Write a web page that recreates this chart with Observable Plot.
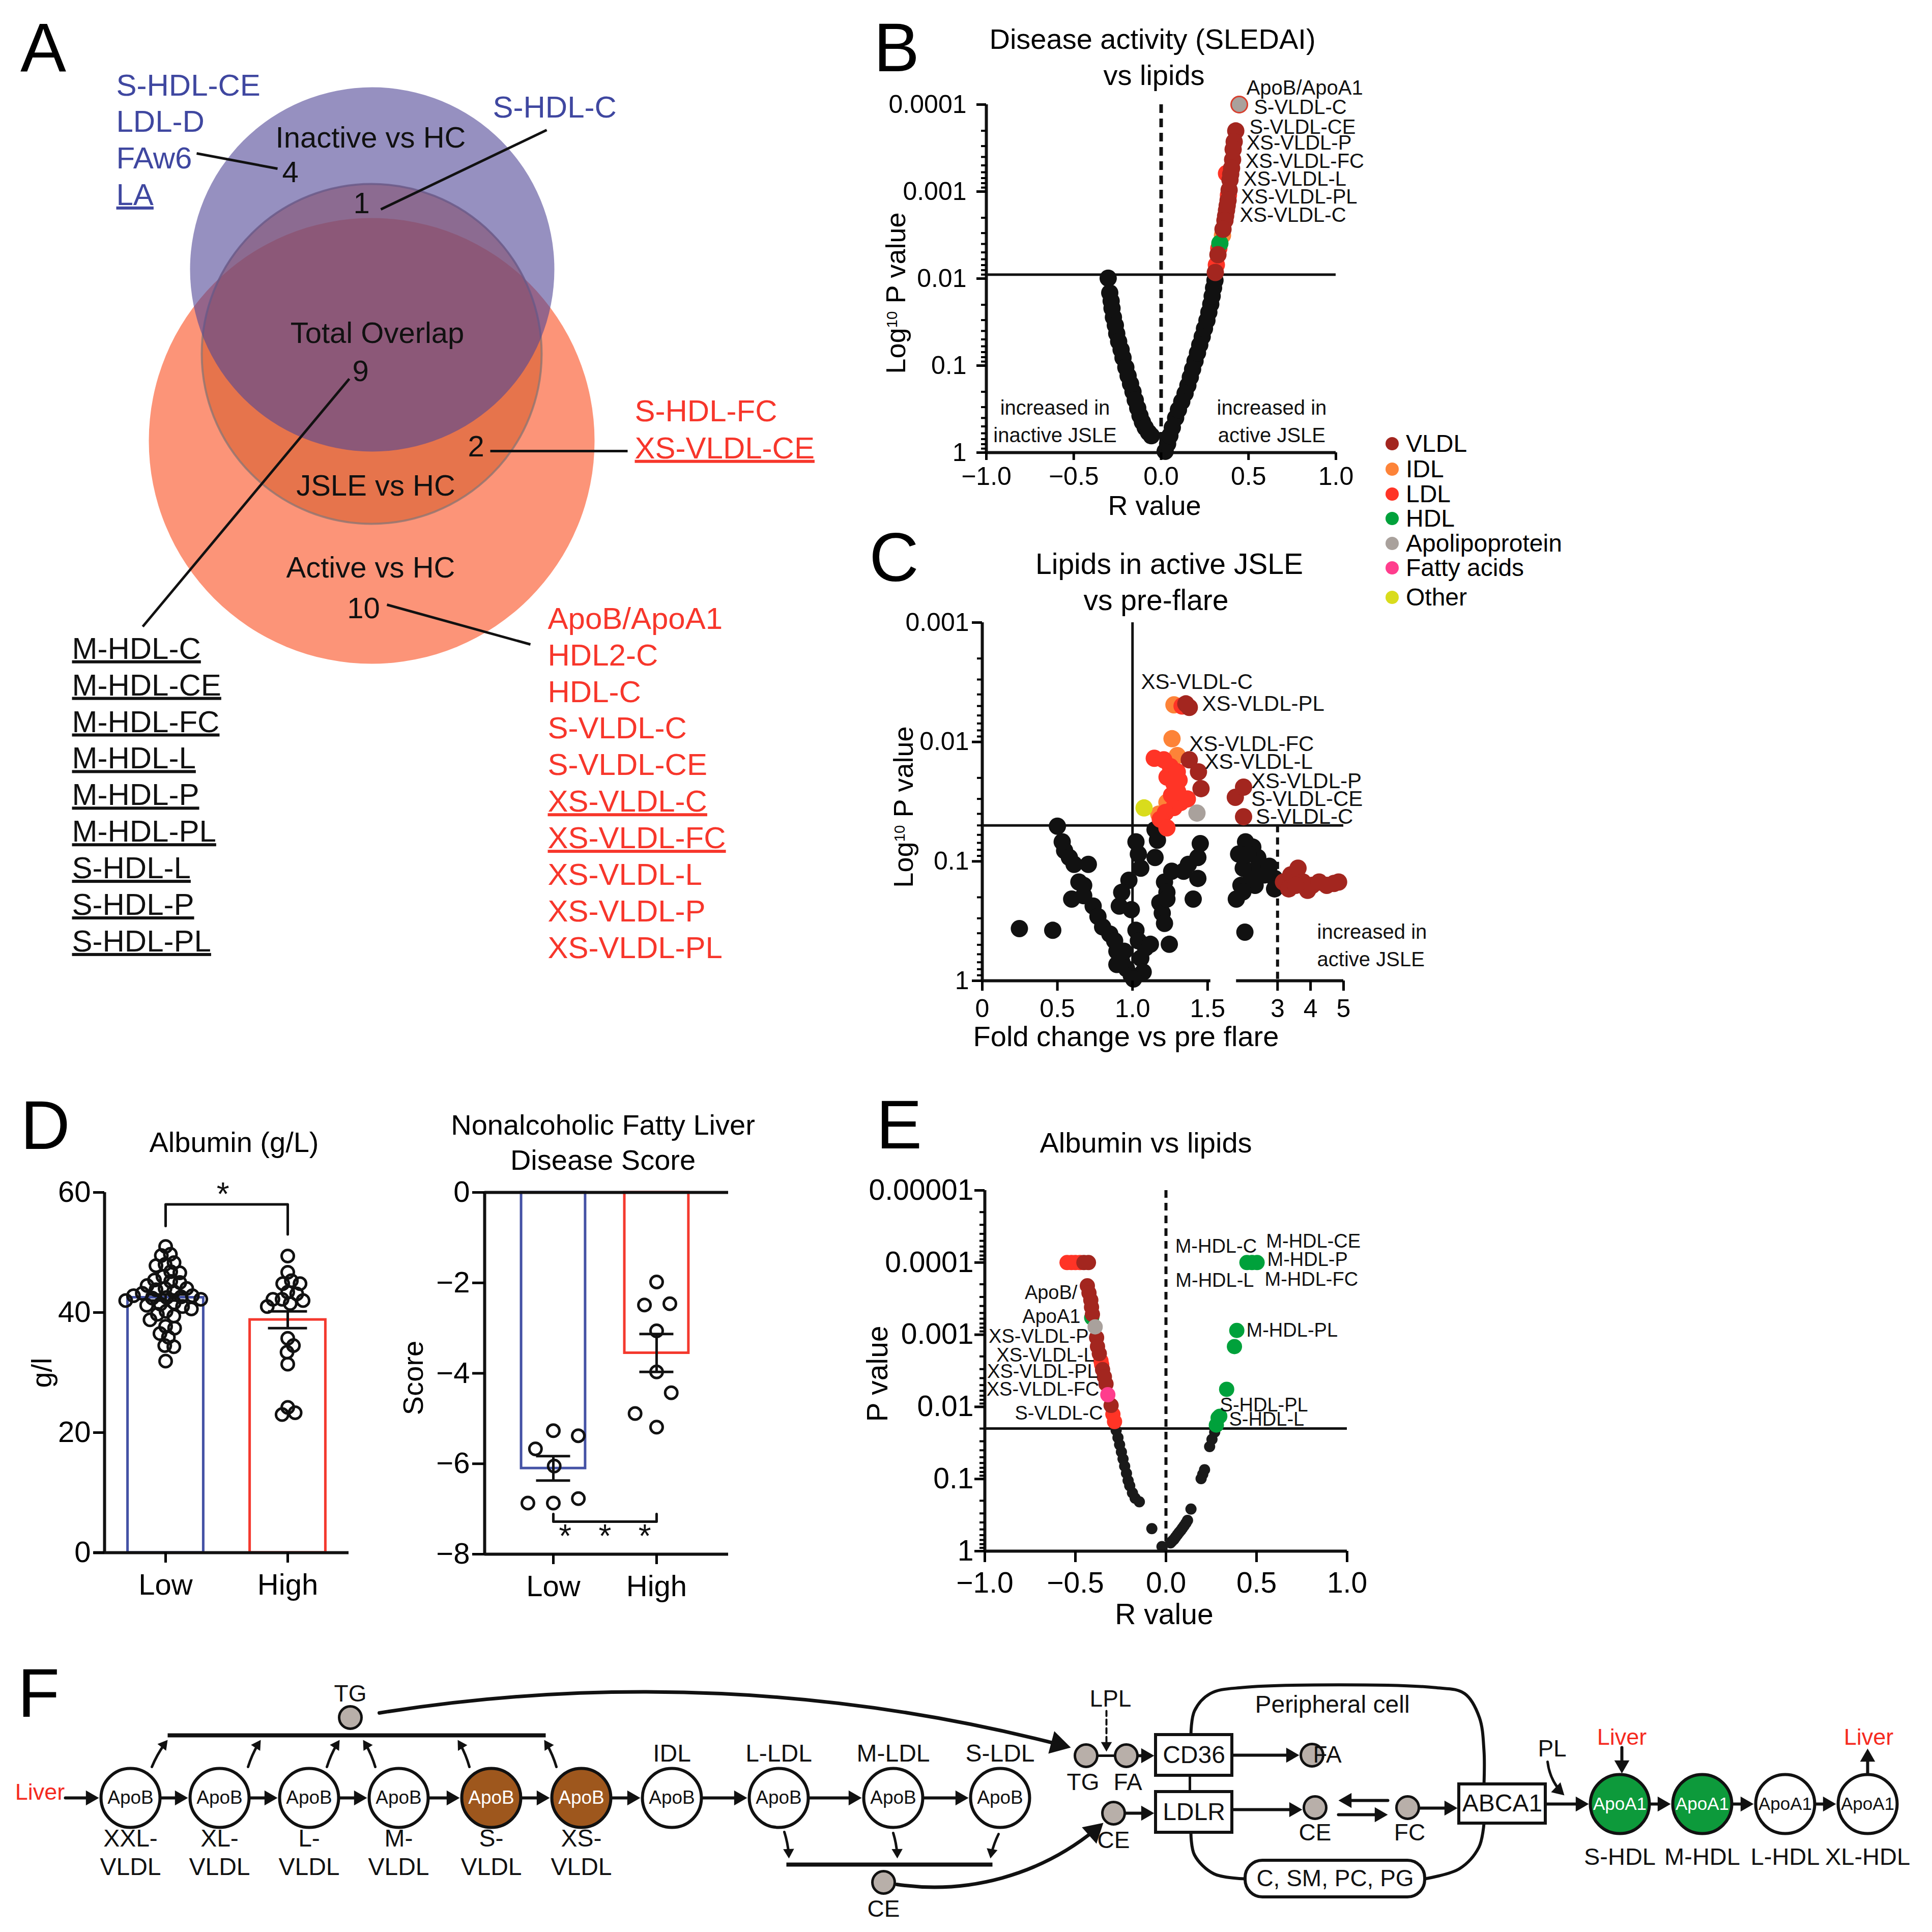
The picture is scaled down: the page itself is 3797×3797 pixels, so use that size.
<!DOCTYPE html>
<html><head><meta charset="utf-8">
<script src="https://cdn.jsdelivr.net/npm/d3@7"></script>
<script src="https://cdn.jsdelivr.net/npm/@observablehq/plot@0.6"></script>
<style>
body{margin:0;background:#fff;}
#fig{position:relative;width:3797px;height:3797px;overflow:hidden;background:#fff;font-family:'Liberation Sans',Arial,Helvetica,sans-serif;color:#000;}
.t{position:absolute;white-space:nowrap;line-height:1;}
.t sup{font-size:0.55em;vertical-align:0.55em;line-height:0;}
</style></head><body><div id="fig"></div>
<script>
const FONT = "'Liberation Sans', Arial, Helvetica, sans-serif";
const fig = document.getElementById("fig");

// ================= DATA =================
// ---- Panel A (Venn) ----
const vennSets = ["Active vs HC", "JSLE vs HC", "Inactive vs HC"];
const vennRegionNames = ["Inactive vs HC", "Total Overlap", "JSLE vs HC", "Active vs HC"];
const vennRegionCounts = [4, 1, 9, 2, 10]; // inactive-only, inactive∩JSLE, total, JSLE∩active, active-only
const inactiveOnlyLipids = ["S-HDL-CE", "LDL-D", "FAw6", "LA"];
const inactiveJsleLipids = ["S-HDL-C"];
const jsleActiveLipids = ["S-HDL-FC", "XS-VLDL-CE"];
const totalOverlapLipids = ["M-HDL-C", "M-HDL-CE", "M-HDL-FC", "M-HDL-L", "M-HDL-P", "M-HDL-PL", "S-HDL-L", "S-HDL-P", "S-HDL-PL"];
const activeOnlyLipids = ["ApoB/ApoA1", "HDL2-C", "HDL-C", "S-VLDL-C", "S-VLDL-CE", "XS-VLDL-C", "XS-VLDL-FC", "XS-VLDL-L", "XS-VLDL-P", "XS-VLDL-PL"];
const underlinedLipids = ["LA", "XS-VLDL-CE", "XS-VLDL-C", "XS-VLDL-FC", ...totalOverlapLipids];

// ---- lipid classes ----
const lipidClasses = ["VLDL", "IDL", "LDL", "HDL", "Apolipoprotein", "Fatty acids", "Other"];
const classKeys = ["VLDL", "IDL", "LDL", "HDL", "Apo", "FA", "Other"];
const classColors = ["#a3261f", "#fd8338", "#ff3426", "#00a13b", "#a9a19c", "#ff3d8d", "#d9dc1c"];

// ---- Panel B: SLEDAI vs lipids (R, P) ----
const bBlack = [[-0.303,0.0099],[-0.294,0.0146],[-0.286,0.0181],[-0.281,0.0220],[-0.273,0.0278],[-0.262,0.0344],[-0.254,0.0428],[-0.243,0.0530],[-0.229,0.0656],[-0.218,0.0813],[-0.202,0.105],[-0.189,0.131],[-0.175,0.162],[-0.161,0.200],[-0.148,0.249],[-0.134,0.308],[-0.121,0.376],[-0.107,0.446],[-0.091,0.516],[-0.072,0.587],[-0.056,0.640],
  [0.023,0.966],[0.037,0.792],[0.050,0.640],[0.064,0.516],[0.083,0.399],[0.099,0.322],[0.118,0.259],[0.137,0.209],[0.153,0.169],[0.167,0.136],[0.180,0.110],[0.194,0.0887],[0.208,0.0715],[0.221,0.0577],[0.235,0.0466],[0.248,0.0376],[0.262,0.0303],[0.273,0.0244],[0.284,0.0197],[0.292,0.0159],[0.300,0.0128],[0.308,0.0105]];
const bLDL = [[0.374,6.2e-4],[0.385,1.1e-3],[0.330,4.5e-3],[0.316,6.95e-3]];
const bIDL = [[0.351,3.18e-3]];
const bHDL = [[0.336,3.94e-3]];
const bVLDL = [[0.447,1.0e-4],[0.427,2.01e-4],[0.418,2.67e-4],[0.412,3.27e-4],[0.409,4.29e-4],[0.403,5.38e-4],[0.398,6.3e-4],[0.394,7.34e-4],[0.389,9.59e-4],[0.383,1.26e-3],[0.378,1.45e-3],[0.374,1.64e-3],[0.369,1.90e-3],[0.365,2.15e-3],[0.354,2.71e-3],[0.325,5.31e-3],[0.310,8.51e-3]];
const bApo = [[0.447,1.0e-4]];
const bThreshold = 0.009;
const bLabelNames = ["ApoB/ApoA1", "S-VLDL-C", "S-VLDL-CE", "XS-VLDL-P", "XS-VLDL-FC", "XS-VLDL-L", "XS-VLDL-PL", "XS-VLDL-C"];
const bLabelR = [0.488, 0.531, 0.505, 0.488, 0.482, 0.471, 0.456, 0.450];
const bLabelP = [6.5e-5, 1.08e-4, 1.83e-4, 2.78e-4, 4.52e-4, 7.24e-4, 1.16e-3, 1.88e-3];

// ---- Panel C: active vs pre-flare (fold change, P) ----
const cBlack = [[0.500,0.0508],[0.532,0.0687],[0.548,0.0813],[0.580,0.0929],[0.611,0.106],[0.706,0.106],[0.643,0.149],[0.675,0.159],[0.595,0.207],[0.675,0.194],[0.738,0.237],[0.770,0.290],[0.801,0.354],[0.849,0.406],[0.881,0.463],[0.896,0.566],[0.928,0.692],[0.960,0.791],[0.992,0.904],
  [0.247,0.366],[0.469,0.378],
  [1.023,0.0687],[1.039,0.0869],[1.055,0.114],[0.976,0.144],[0.928,0.182],[0.912,0.237],[0.992,0.254],[1.023,0.378],[1.039,0.463],[1.055,0.647],[1.087,0.530],[1.119,0.495],[1.071,0.845],[1.007,0.966],[0.944,0.566],[0.896,0.730],
  [1.150,0.0543],[1.166,0.0665],[1.150,0.0929],[1.213,0.149],[1.229,0.182],[1.182,0.222],[1.198,0.271],[1.213,0.331],[1.245,0.495],[1.261,0.121],[1.340,0.121],[1.372,0.106],[1.435,0.0929],[1.451,0.0711],[1.404,0.207],[1.435,0.139],[1.229,0.207],
  [2.03,0.0687],[2.25,0.0760],[1.82,0.0869],[1.96,0.114],[2.18,0.121],[2.47,0.114],[2.75,0.110],[2.91,0.139],[1.89,0.159],[2.32,0.159],[2.91,0.170],[1.75,0.207],[2.01,0.392],[2.40,0.0929],[2.10,0.0869],[2.60,0.130],[2.20,0.140],[1.95,0.180]];
const cIDL = [[1.276,0.00489],[1.263,0.0094],[1.298,0.0130],[1.175,0.0402],[1.229,0.0321]];
const cLDL = [[1.330,0.0050],[1.145,0.0137],[1.208,0.0141],[1.252,0.0161],[1.230,0.0197],[1.298,0.0178],[1.310,0.0209],[1.276,0.0223],[1.321,0.0321],[1.365,0.0300],[1.276,0.0354],[1.219,0.0390],[1.185,0.0444],[1.229,0.0524],[1.260,0.0280],[1.300,0.0260]];
const cOther = [[1.077,0.0357]];
const cApo = [[1.429,0.0394]];
const cVLDL = [[1.355,0.00480],[1.378,0.00514],[1.378,0.0141],[1.439,0.0178],[1.456,0.0246],
  [1.72,0.0291],[1.97,0.0239],[1.97,0.0423],
  [3.18,0.149],[3.40,0.130],[3.62,0.114],[3.77,0.149],[3.91,0.175],[4.05,0.159],[4.26,0.149],[4.49,0.159],[4.71,0.153],[4.85,0.149],[3.34,0.170],[3.55,0.159]];
const cThreshold = 0.05;
const cFoldCutoff = 3;
const cAxisBreak = [1.52, 1.75];
const cLabelNames = ["XS-VLDL-C", "XS-VLDL-PL", "XS-VLDL-FC", "XS-VLDL-L", "XS-VLDL-P", "S-VLDL-CE", "S-VLDL-C"];
const cLabelFC = [1.057, 1.463, 1.378, 1.480, 2.20, 2.20, 2.34];
const cLabelP = [3.15e-3, 4.80e-3, 0.0104, 0.0147, 0.0213, 0.0300, 0.0423];

// ---- Panel D ----
const groups = ["Low", "High"];
const albuminLow = [51.0,49.7,49.5,48.3,48.0,47.8,46.8,46.6,46.0,45.4,45.2,45.0,44.5,44.0,44.0,43.8,43.5,43.2,42.8,42.8,42.6,42.5,42.4,42.2,42.0,41.6,41.4,41.2,41.0,40.6,40.2,39.7,39.4,38.8,37.7,37.4,36.5,35.9,34.5,34.3,31.9];
const albuminHigh = [49.4,46.7,45.3,44.8,44.8,43.4,43.1,42.2,42.2,42.0,41.5,41.0,35.7,34.5,33.4,31.4,24.2,23.3,23.0];
const albuminMean = [42.5, 38.8];
const albuminSEM = [0.5, 1.4];
const naflLow = [-5.27,-5.38,-5.67,-6.05,-6.87,-6.77,-6.87];
const naflHigh = [-1.98,-2.46,-2.49,-3.06,-3.97,-4.43,-5.19,-4.89];
const naflMean = [-6.1, -3.55];
const naflSEM = [0.27, 0.42];

// ---- Panel E: albumin vs lipids (R, P) ----
const eBlack = [[-0.275,0.0212],[-0.265,0.0267],[-0.256,0.0335],[-0.246,0.0421],[-0.237,0.0528],[-0.228,0.0664],[-0.218,0.0834],[-0.209,0.105],[-0.200,0.124],[-0.185,0.156],[-0.170,0.185],[-0.147,0.207],[-0.078,0.488],[-0.022,0.863],
  [0.025,0.769],[0.034,0.727],[0.044,0.687],[0.053,0.640],[0.063,0.592],[0.072,0.553],[0.082,0.516],[0.091,0.480],[0.100,0.446],[0.110,0.410],[0.119,0.375],[0.138,0.261],[0.194,0.0989],[0.203,0.0860],[0.213,0.0743],[0.241,0.0355],[0.254,0.0282],[0.269,0.0224]];
const eLDL = [[-0.546,1e-4],[-0.522,1e-4],[-0.500,1e-4],[-0.475,1e-4],[-0.359,2.30e-3],[-0.355,2.6e-3],[-0.293,0.0127],[-0.284,0.0160]];
const eHDL = [[-0.410,5.8e-4],[0.278,0.0179],[0.288,0.0142],[0.297,0.0135],[0.335,5.71e-3],[0.378,1.46e-3],[0.391,8.73e-4],[0.447,1e-4],[0.475,1e-4],[0.503,1e-4]];
const eVLDL = [[-0.453,1e-4],[-0.428,1e-4],[-0.434,2.10e-4],[-0.425,2.64e-4],[-0.415,3.31e-4],[-0.411,4.16e-4],[-0.406,5.22e-4],[-0.383,1.10e-3],[-0.378,1.46e-3],[-0.368,1.83e-3],[-0.350,3.05e-3],[-0.340,3.84e-3],[-0.331,4.82e-3],[-0.303,9.55e-3]];
const eApo = [[-0.391,7.78e-4]];
const eFA = [[-0.321,6.79e-3]];
const eThreshold = 0.02;
const eLabelsLeftNames = ["ApoB/", "ApoA1", "XS-VLDL-P", "XS-VLDL-L", "XS-VLDL-PL", "XS-VLDL-FC", "S-VLDL-C"];
const eLabelsLeftR = [-0.489, -0.472, -0.427, -0.396, -0.376, -0.368, -0.348];
const eLabelsLeftP = [2.61e-4, 5.61e-4, 1.07e-3, 1.93e-3, 3.24e-3, 5.73e-3, 0.0123];
const eLabelsRightNames = ["M-HDL-C", "M-HDL-CE", "M-HDL-P", "M-HDL-L", "M-HDL-FC", "M-HDL-PL", "S-HDL-PL", "S-HDL-L"];
const eLabelsRightR = [0.051, 0.553, 0.559, 0.053, 0.545, 0.444, 0.298, 0.348];
const eLabelsRightP = [5.97e-5, 5.07e-5, 9.10e-5, 1.77e-4, 1.71e-4, 8.69e-4, 9.46e-3, 0.0149];

// ---- Panel F: pathway ----
const apoBParticles = ["XXL-VLDL", "XL-VLDL", "L-VLDL", "M-VLDL", "S-VLDL", "XS-VLDL", "IDL", "L-LDL", "M-LDL", "S-LDL"];
const apoBAltered = ["S-VLDL", "XS-VLDL"];
const apoA1Particles = ["S-HDL", "M-HDL", "L-HDL", "XL-HDL"];
const apoA1Altered = ["S-HDL", "M-HDL"];
const fMoleculeNames = ["TG", "TG", "FA", "FA", "CE", "CE", "CE", "FC"];
const fBoxNames = ["CD36", "LDLR", "ABCA1"];

// ================= LAYOUT (positions / styles) =================
const baseStyle = fs => ({background: "none", overflow: "visible", fontFamily: FONT, fontSize: fs + "px", color: "black"});
function place(svg, left, top) { svg.style.position = "absolute"; svg.style.left = left + "px"; svg.style.top = top + "px"; fig.appendChild(svg); return svg; }
function htmlText(html, x, y, size, opts = {}) {
  const d = document.createElement("div");
  d.className = "t"; d.innerHTML = html;
  d.style.left = x + "px"; d.style.top = y + "px"; d.style.fontSize = size + "px";
  if (opts.color) d.style.color = opts.color;
  const ax = opts.anchor === "start" ? "0" : opts.anchor === "end" ? "-100%" : "-50%";
  d.style.transform = `translate(${ax},-50%)` + (opts.rotate ? ` rotate(${opts.rotate}deg)` : "");
  fig.appendChild(d); return d;
}
const classColor = Object.fromEntries(classKeys.map((k, i) => [k, classColors[i]]));
classColor.none = "#111111";
const pts = (arr, c) => arr.map(([x, y]) => ({x, y, c}));
const logLabels = new Map([[1e-5, "0.00001"], [1e-4, "0.0001"], [1e-3, "0.001"], [1e-2, "0.01"], [0.1, "0.1"], [1, "1"]]);
function minorLog(e0, e1) { const t = []; for (let e = e0; e < e1; e++) for (let k = 2; k <= 9; k++) t.push(+(k * Math.pow(10, e)).toPrecision(3)); return t; }
const fmtR = d => (d < 0 ? "\u2212" : "") + Math.abs(d).toFixed(1);
const fmtInt = d => (d < 0 ? "\u2212" : "") + Math.abs(d);

// ---------- Letters ----------
[["A", 85, 93], ["B", 1762, 93], ["C", 1757, 1095], ["D", 89, 2211], ["E", 1767, 2210], ["F", 76, 3327]]
  .forEach(([s, x, y]) => htmlText(s, x, y, 135));

// ---------- Panel A: Venn ----------
{
  const geom = [
    {cx: 730, cy: 866, r: 438, fill: "#fc9478", op: 1, stroke: "none"},
    {cx: 730, cy: 695, r: 334, fill: "#d35a28", op: 0.55, stroke: "#8e7672"},
    {cx: 731, cy: 529, r: 358, fill: "#504696", op: 0.6, stroke: "none"}
  ];
  const regionPos = [[728, 271], [741, 655], [738, 955], [728, 1116]];
  const countPos = [[570, 339], [710, 400], [708, 730], [935, 878], [714, 1196]];
  const blue = "#3f47a0", red = "#f7362b";
  const lists = [
    {items: inactiveOnlyLipids, x: 228, y0: 168, dy: 71.7, color: blue},
    {items: inactiveJsleLipids, x: 968, y0: 211, dy: 72, color: blue},
    {items: jsleActiveLipids, x: 1247, y0: 808, dy: 73, color: red},
    {items: activeOnlyLipids, x: 1076, y0: 1216, dy: 71.9, color: red},
    {items: totalOverlapLipids, x: 141, y0: 1275, dy: 71.9, color: "#111"}
  ];
  const listText = lists.flatMap(L => L.items.map((name, i) => ({name, x: L.x, y: L.y0 + i * L.dy, color: L.color})));
  const leaders = [
    {x1: 386, y1: 301, x2: 545, y2: 331}, {x1: 1074, y1: 255, x2: 748, y2: 411},
    {x1: 686, y1: 744, x2: 280, y2: 1231}, {x1: 963, y1: 886, x2: 1233, y2: 886},
    {x1: 760, y1: 1188, x2: 1042, y2: 1266}
  ];
  const regionLabels = vennRegionNames.map((name, i) => ({name, x: regionPos[i][0], y: regionPos[i][1]}));
  const countLabels = vennRegionCounts.map((n, i) => ({n: String(n), x: countPos[i][0], y: countPos[i][1]}));
  const svg = Plot.plot({
    width: 1650, height: 1950, margin: 0,
    x: {type: "identity", axis: null}, y: {type: "identity", axis: null}, r: {type: "identity"},
    style: baseStyle(58),
    marks: [
      ...geom.map((g, i) => Plot.dot([{...g, set: vennSets[i]}], {x: "cx", y: "cy", r: "r", fill: g.fill, fillOpacity: g.op, stroke: g.stroke, strokeWidth: 4, strokeOpacity: 0.8})),
      Plot.link(leaders, {x1: "x1", y1: "y1", x2: "x2", y2: "y2", strokeWidth: 5, stroke: "#111"}),
      Plot.text(regionLabels, {x: "x", y: "y", text: "name", fontSize: 58, lineAnchor: "middle", fill: "#111"}),
      Plot.text(countLabels, {x: "x", y: "y", text: "n", fontSize: 58, lineAnchor: "middle", fill: "#111"}),
      Plot.text(listText, {x: "x", y: "y", text: "name", fill: "color", fontSize: 60, textAnchor: "start", lineAnchor: "middle"})
    ]
  });
  const ul = new Set(underlinedLipids);
  d3.select(svg).selectAll("text").each(function () { if (ul.has(this.textContent)) this.style.textDecoration = "underline"; });
  place(svg, 0, 0);
}

// ---------- Panel B ----------
{
  const data = [...pts(bBlack, "none"), ...pts(bLDL, "LDL"), ...pts(bIDL, "IDL"), ...pts(bHDL, "HDL"), ...pts(bVLDL, "VLDL")];
  const labels = bLabelNames.map((name, i) => ({name, x: bLabelR[i], y: bLabelP[i]}));
  const notes = [{t: "increased in\ninactive JSLE", x: -0.607, y: 0.42}, {t: "increased in\nactive JSLE", x: 0.633, y: 0.42}];
  place(Plot.plot({
    width: 1060, height: 900, marginLeft: 238, marginRight: 135, marginTop: 55, marginBottom: 161,
    x: {domain: [-1, 1]}, y: {type: "log", domain: [1, 1e-4]},
    style: baseStyle(50),
    marks: [
      Plot.ruleY([bThreshold], {strokeWidth: 5, stroke: "#111"}),
      Plot.ruleX([0], {strokeWidth: 7, strokeDasharray: "17,11", stroke: "#111"}),
      Plot.dot(data, {x: "x", y: "y", r: 17, fill: d => classColor[d.c]}),
      Plot.dot(pts(bApo, "Apo"), {x: "x", y: "y", r: 16, fill: classColor.Apo, stroke: "#d8402f", strokeWidth: 3}),
      Plot.text(labels, {x: "x", y: "y", text: "name", textAnchor: "start", lineAnchor: "middle", fontSize: 40, fill: "#111"}),
      Plot.text(notes, {x: "x", y: "y", text: "t", fontSize: 40, lineHeight: 1.35, lineAnchor: "middle", fill: "#111"}),
      Plot.ruleX([-1], {strokeWidth: 6, stroke: "#111"}),
      Plot.ruleY([1], {strokeWidth: 6, stroke: "#111"}),
      Plot.axisX([-1, -0.5, 0, 0.5, 1], {tickSize: 15, tickPadding: 13, strokeWidth: 5, tickFormat: fmtR, fontSize: 50, label: null}),
      Plot.axisY([1e-4, 1e-3, 1e-2, 0.1, 1], {tickSize: 19, tickPadding: 20, strokeWidth: 5, tickFormat: d => logLabels.get(d), fontSize: 50, label: null}),
      Plot.axisY(minorLog(-4, 0), {tickSize: 10, strokeWidth: 4, tickFormat: () => "", label: null})
    ]
  }), 1700, 150);
  htmlText("Disease activity (SLEDAI)", 2265, 77, 56);
  htmlText("vs lipids", 2268, 148, 56);
  htmlText("R value", 2269, 993, 54);
  htmlText("Log<sup>10</sup> P value", 1760, 576, 54, {rotate: -90});
}

// ---------- Legend ----------
{
  const legendY = [872, 922, 971, 1019, 1068, 1116, 1174];
  lipidClasses.forEach((name, i) => {
    const dot = document.createElement("div");
    Object.assign(dot.style, {position: "absolute", left: (2736 - 13) + "px", top: (legendY[i] - 13) + "px", width: "26px", height: "26px", borderRadius: "50%", background: classColors[i]});
    fig.appendChild(dot);
    htmlText(name, 2763, legendY[i], 48, {anchor: "start"});
  });
}

// ---------- Panel C ----------
{
  const all = [...pts(cBlack, "none"), ...pts(cIDL, "IDL"), ...pts(cLDL, "LDL"), ...pts(cOther, "Other"), ...pts(cApo, "Apo"), ...pts(cVLDL, "VLDL")];
  const labels = cLabelNames.map((name, i) => ({name, x: cLabelFC[i], y: cLabelP[i]}));
  const leftPts = all.filter(d => d.x < 1.6), rightPts = all.filter(d => d.x >= 1.6);
  const common = {height: 930, marginTop: 53, marginBottom: 173, y: {type: "log", domain: [1, 1e-3]}, style: baseStyle(50)};
  place(Plot.plot({
    ...common, width: 726, marginLeft: 230, marginRight: 0,
    x: {domain: [0, 1.68]},
    marks: [
      Plot.ruleY([cThreshold], {strokeWidth: 5, stroke: "#111"}),
      Plot.ruleX([1], {strokeWidth: 5, stroke: "#111"}),
      Plot.dot(leftPts, {x: "x", y: "y", r: 17, fill: d => classColor[d.c]}),
      Plot.text(labels.filter(d => d.x < 1.6), {x: "x", y: "y", text: "name", textAnchor: "start", lineAnchor: "middle", fontSize: 42, fill: "#111"}),
      Plot.ruleX([0], {strokeWidth: 6, stroke: "#111"}),
      Plot.ruleY([1], {x1: 0, x2: cAxisBreak[0], strokeWidth: 6, stroke: "#111"}),
      Plot.axisX([0, 0.5, 1, 1.5], {tickSize: 20, tickPadding: 16, strokeWidth: 5, tickFormat: d => d === 0 ? "0" : d.toFixed(1), fontSize: 50, label: null}),
      Plot.axisY([1e-3, 1e-2, 0.1, 1], {tickSize: 20, tickPadding: 6, strokeWidth: 5, tickFormat: d => logLabels.get(d), fontSize: 50, label: null}),
      Plot.axisY(minorLog(-3, 0), {tickSize: 10, strokeWidth: 4, tickFormat: () => "", label: null})
    ]
  }), 1700, 1170);
  place(Plot.plot({
    ...common, width: 420, marginLeft: 0, marginRight: 206,
    x: {domain: [1.7, 5]},
    marks: [
      Plot.ruleY([cThreshold], {strokeWidth: 5, stroke: "#111"}),
      Plot.ruleX([cFoldCutoff], {y1: cThreshold, y2: 1, strokeWidth: 6, strokeDasharray: "14,10", stroke: "#111"}),
      Plot.dot(rightPts, {x: "x", y: "y", r: 17, fill: d => classColor[d.c]}),
      Plot.text(labels.filter(d => d.x >= 1.6), {x: "x", y: "y", text: "name", textAnchor: "start", lineAnchor: "middle", fontSize: 42, fill: "#111"}),
      Plot.text([{t: "increased in\nactive JSLE", x: 4.2, y: 0.489}], {x: "x", y: "y", text: "t", textAnchor: "start", lineAnchor: "middle", fontSize: 40, lineHeight: 1.35, fill: "#111"}),
      Plot.ruleY([1], {x1: cAxisBreak[1], x2: 5, strokeWidth: 6, stroke: "#111"}),
      Plot.axisX([3, 4, 5], {tickSize: 20, tickPadding: 16, strokeWidth: 5, tickFormat: d => String(d), fontSize: 50, label: null}),
      Plot.axisY([], {label: null})
    ]
  }), 2426, 1170);
  htmlText("Lipids in active JSLE", 2298, 1108, 57);
  htmlText("vs pre-flare", 2272, 1179, 57);
  htmlText("Fold change vs pre flare", 2213, 2037, 56);
  htmlText("Log<sup>10</sup> P value", 1775, 1586, 54, {rotate: -90});
}

// ---------- Panel D ----------
function swarm(values, pxPerUnit, diam) {
  const placed = [];
  return values.map(v => {
    const y = v * pxPerUnit;
    const cands = [0];
    for (const p of placed) {
      const dy = Math.abs(p.y - y);
      if (dy < diam) { const dx = Math.sqrt(diam * diam - dy * dy); cands.push(p.x + dx, p.x - dx); }
    }
    cands.sort((a, b) => Math.abs(a) - Math.abs(b));
    const ok = c => placed.every(p => (p.x - c) ** 2 + (p.y - y) ** 2 >= diam * diam - 0.01);
    const x = cands.find(ok) ?? 0;
    placed.push({x, y});
    return x;
  });
}
const groupColor = ["#4452a5", "#f4392e"];
{
  // Albumin
  const pxX = 240, pxY = 11.8, barHalf = 0.31, capHalf = 0.16;
  const bars = groups.map((g, i) => ({i, g, mean: albuminMean[i], sem: albuminSEM[i]}));
  const dots = [albuminLow, albuminHigh].flatMap((vals, i) => { const off = swarm(vals, pxY, 18); return vals.map((v, k) => ({x: i + off[k] / pxX, v})); });
  const caps = bars.flatMap(d => [d.mean - d.sem, d.mean + d.sem].map(y => ({i: d.i, y})));
  const bracket = [{x: 0, y: 54.4}, {x: 0, y: 58}, {x: 1, y: 58}, {x: 1, y: 53}];
  place(Plot.plot({
    width: 760, height: 900, marginLeft: 205, marginRight: 75, marginTop: 43, marginBottom: 149,
    x: {domain: [-0.5, 1.5]}, y: {domain: [0, 60]},
    style: baseStyle(58),
    marks: [
      Plot.rect(bars, {x1: d => d.i - barHalf, x2: d => d.i + barHalf, y1: 0, y2: "mean", fill: "none", stroke: d => groupColor[d.i], strokeWidth: 5}),
      Plot.dot(dots, {x: "x", y: "v", r: 12, fill: "none", stroke: "#111", strokeWidth: 5}),
      Plot.ruleX(bars, {x: "i", y1: d => d.mean - d.sem, y2: d => d.mean + d.sem, strokeWidth: 5, stroke: "#111"}),
      Plot.ruleY(caps, {y: "y", x1: d => d.i - capHalf, x2: d => d.i + capHalf, strokeWidth: 5, stroke: "#111"}),
      Plot.line(bracket, {x: "x", y: "y", strokeWidth: 5, stroke: "#111"}),
      Plot.text(["*"], {x: 0.47, y: 59.6, fontSize: 64, lineAnchor: "middle", fill: "#111"}),
      Plot.ruleX([-0.5], {strokeWidth: 6, stroke: "#111"}),
      Plot.ruleY([0], {x1: -0.59, x2: 1.5, strokeWidth: 6, stroke: "#111"}),
      Plot.axisX([0, 1], {tickSize: 20, tickPadding: 21, strokeWidth: 5, tickFormat: i => groups[i], fontSize: 58, label: null}),
      Plot.axisY([0, 20, 40, 60], {tickSize: 22, tickPadding: 5, strokeWidth: 5, fontSize: 58, label: null})
    ]
  }), 0, 2300);
  htmlText("Albumin (g/L)", 460, 2245, 56);
  htmlText("g/l", 82, 2698, 56, {rotate: -90});
}
{
  // NAFLD score
  const pxX = 203, pxY = 88.9, barHalf = 0.31, capHalf = 0.165;
  const bars = groups.map((g, i) => ({i, g, mean: naflMean[i], sem: naflSEM[i]}));
  const dots = [naflLow, naflHigh].flatMap((vals, i) => { const off = swarm(vals, pxY, 50); return vals.map((v, k) => ({x: i + off[k] / pxX, v})); });
  const caps = bars.flatMap(d => [d.mean - d.sem, d.mean + d.sem].map(y => ({i: d.i, y})));
  const bracket = [{x: 0, y: -7.11}, {x: 0, y: -7.28}, {x: 1, y: -7.28}, {x: 1, y: -7.11}];
  place(Plot.plot({
    width: 700, height: 900, marginLeft: 152, marginRight: 69, marginTop: 43, marginBottom: 146,
    x: {domain: [-0.665, 1.695]}, y: {domain: [-8, 0]},
    style: baseStyle(58),
    marks: [
      Plot.rect(bars, {x1: d => d.i - barHalf, x2: d => d.i + barHalf, y1: 0, y2: "mean", fill: "none", stroke: d => groupColor[d.i], strokeWidth: 5}),
      Plot.dot(dots, {x: "x", y: "v", r: 12, fill: "none", stroke: "#111", strokeWidth: 5}),
      Plot.ruleX(bars, {x: "i", y1: d => d.mean - d.sem, y2: d => d.mean + d.sem, strokeWidth: 5, stroke: "#111"}),
      Plot.ruleY(caps, {y: "y", x1: d => d.i - capHalf, x2: d => d.i + capHalf, strokeWidth: 5, stroke: "#111"}),
      Plot.line(bracket, {x: "x", y: "y", strokeWidth: 5, stroke: "#111"}),
      Plot.text(["*   *   *"], {x: 0.5, y: -7.62, fontSize: 64, lineAnchor: "middle", fill: "#111"}),
      Plot.ruleX([-0.665], {strokeWidth: 6, stroke: "#111"}),
      Plot.ruleY([0], {strokeWidth: 6, stroke: "#111"}),
      Plot.ruleY([-8], {strokeWidth: 6, stroke: "#111"}),
      Plot.axisX([0, 1], {tickSize: 20, tickPadding: 21, strokeWidth: 5, tickFormat: i => groups[i], fontSize: 58, label: null}),
      Plot.axisY([0, -2, -4, -6, -8], {tickSize: 24, tickPadding: 5, strokeWidth: 5, tickFormat: fmtInt, fontSize: 58, label: null})
    ]
  }), 800, 2300);
  htmlText("Nonalcoholic Fatty Liver", 1185, 2211, 56);
  htmlText("Disease Score", 1185, 2280, 56);
  htmlText("Score", 812, 2708, 56, {rotate: -90});
}

// ---------- Panel E ----------
{
  const black = pts(eBlack, "none");
  const colored = [...pts(eLDL, "LDL"), ...pts(eHDL, "HDL"), ...pts(eVLDL, "VLDL"), ...pts(eApo, "Apo"), ...pts(eFA, "FA")];
  const left = eLabelsLeftNames.map((name, i) => ({name, x: eLabelsLeftR[i], y: eLabelsLeftP[i]}));
  const right = eLabelsRightNames.map((name, i) => ({name, x: eLabelsRightR[i], y: eLabelsRightP[i]}));
  place(Plot.plot({
    width: 1060, height: 900, marginLeft: 235, marginRight: 113, marginTop: 49, marginBottom: 142,
    x: {domain: [-1, 1]}, y: {type: "log", domain: [1, 1e-5]},
    style: baseStyle(57),
    marks: [
      Plot.ruleY([eThreshold], {strokeWidth: 5, stroke: "#111"}),
      Plot.ruleX([0], {strokeWidth: 6, strokeDasharray: "15,10", stroke: "#111"}),
      Plot.dot(black, {x: "x", y: "y", r: 11, fill: "#1a1a1a"}),
      Plot.dot(colored, {x: "x", y: "y", r: 15, fill: d => classColor[d.c]}),
      Plot.text(left, {x: "x", y: "y", text: "name", textAnchor: "end", lineAnchor: "middle", fontSize: 38, fill: "#111"}),
      Plot.text(right, {x: "x", y: "y", text: "name", textAnchor: "start", lineAnchor: "middle", fontSize: 38, fill: "#111"}),
      Plot.ruleX([-1], {strokeWidth: 6, stroke: "#111"}),
      Plot.ruleY([1], {strokeWidth: 6, stroke: "#111"}),
      Plot.axisX([-1, -0.5, 0, 0.5, 1], {tickSize: 22, tickPadding: 19, strokeWidth: 5, tickFormat: fmtR, fontSize: 57, label: null}),
      Plot.axisY([1e-5, 1e-4, 1e-3, 1e-2, 0.1, 1], {tickSize: 20, tickPadding: 2, strokeWidth: 5, tickFormat: d => logLabels.get(d), fontSize: 57, label: null}),
      Plot.axisY(minorLog(-5, 0), {tickSize: 10, strokeWidth: 4, tickFormat: () => "", label: null})
    ]
  }), 1700, 2290);
  htmlText("Albumin vs lipids", 2252, 2246, 56);
  htmlText("R value", 2288, 3172, 57);
  htmlText("P value", 1724, 2700, 57, {rotate: -90});
}

// ---------- Panel F ----------
{
  const apoBX = [256, 431, 607, 783, 965, 1142, 1320, 1530, 1755, 1965], apoBY = 3533;
  const apoAX = [3183, 3345, 3508, 3670], apoAY = 3545;
  const nodeR = 58, molR = 22;
  const brown = "#9e571d", green = "#0d9a3b", grey = "#b8afa9", red = "#f52a1f";
  const apoB = apoBParticles.map((name, i) => ({name, x: apoBX[i], y: apoBY, alt: apoBAltered.includes(name)}));
  const apoA = apoA1Particles.map((name, i) => ({name, x: apoAX[i], y: apoAY, alt: apoA1Altered.includes(name)}));
  const bLabels = apoB.flatMap(d => d.name.endsWith("VLDL")
    ? [{x: d.x, y: 3613, t: d.name.slice(0, -4)}, {x: d.x, y: 3669, t: "VLDL"}]
    : [{x: d.x, y: 3446, t: d.name}]);
  const aLabels = apoA.map(d => ({x: d.x, y: 3649, t: d.name}));
  const molPos = [[688, 3375, 688, 3329, "middle"], [2134, 3450, 2128, 3503, "middle"], [2213, 3450, 2216, 3503, "middle"], [2578, 3449, 2608, 3449, "start"],
                  [1736, 3699, 1736, 3752, "middle"], [2188, 3563, 2188, 3617, "middle"], [2584, 3552, 2584, 3602, "middle"], [2766, 3552, 2770, 3602, "middle"]];
  const mols = fMoleculeNames.map((name, i) => ({name, x: molPos[i][0], y: molPos[i][1], lx: molPos[i][2], ly: molPos[i][3], a: molPos[i][4]}));
  const boxPos = [[2271, 2421, 3409, 3489], [2271, 2421, 3521, 3601], [2867, 3037, 3506, 3583]];
  const boxes = fBoxNames.map((name, i) => ({name, x1: boxPos[i][0], x2: boxPos[i][1], y1: boxPos[i][2], y2: boxPos[i][3]}));
  const pill = [{name: "C, SM, PC, PG", x1: 2447, x2: 2800, y1: 3656, y2: 3728}];
  const chain = arr => d3.pairs(arr).map(([a, b]) => ({x1: a.x + nodeR + 2, y1: a.y, x2: b.x - nodeR - 4, y2: b.y}));
  const straight = [
    {x1: 128, y1: apoBY, x2: 194, y2: apoBY}, ...chain(apoB), ...chain(apoA),
    {x1: 2421, y1: 3449, x2: 2553, y2: 3449}, {x1: 2236, y1: 3450, x2: 2268, y2: 3450},
    {x1: 2211, y1: 3563, x2: 2268, y2: 3563}, {x1: 2421, y1: 3556, x2: 2559, y2: 3556},
    {x1: 2727, y1: 3538, x2: 2630, y2: 3538}, {x1: 2630, y1: 3566, x2: 2727, y2: 3566},
    {x1: 2789, y1: 3553, x2: 2864, y2: 3553}, {x1: 3037, y1: 3545, x2: 3122, y2: 3545},
    {x1: 3187, y1: 3434, x2: 3187, y2: 3485}, {x1: 3670, y1: 3487, x2: 3670, y2: 3436}
  ].map(a => ({...a, bend: 0, tri: 11, w: 6}));
  const bent = [
    {x1: 745, y1: 3366, x2: 2104, y2: 3434, bend: 12, tri: 17, w: 7},
    {x1: 1762, y1: 3703, x2: 2168, y2: 3582, bend: -25, tri: 16, w: 7},
    {x1: 3041, y1: 3462, x2: 3074, y2: 3528, bend: -20, tri: 10, w: 5},
    {x1: 298, y1: 3472, x2: 329, y2: 3419, bend: 8, tri: 8, w: 5},
    {x1: 487, y1: 3472, x2: 512, y2: 3419, bend: 8, tri: 8, w: 5},
    {x1: 642, y1: 3472, x2: 667, y2: 3419, bend: 8, tri: 8, w: 5},
    {x1: 737, y1: 3472, x2: 713, y2: 3419, bend: -8, tri: 8, w: 5},
    {x1: 922, y1: 3472, x2: 899, y2: 3419, bend: -8, tri: 8, w: 5},
    {x1: 1093, y1: 3472, x2: 1069, y2: 3419, bend: -8, tri: 8, w: 5},
    {x1: 1541, y1: 3600, x2: 1550, y2: 3652, bend: 8, tri: 8, w: 5},
    {x1: 1755, y1: 3602, x2: 1763, y2: 3652, bend: 8, tri: 8, w: 5},
    {x1: 1962, y1: 3604, x2: 1946, y2: 3652, bend: -8, tri: 8, w: 5}
  ];
  const dashed = [{x1: 2174, y1: 3362, x2: 2174, y2: 3442, bend: 0, tri: 8, w: 4}];
  // filled arrowheads: apex at the arrow tip, oriented along the end tangent
  const apexDist = r => 2 * Math.sqrt(Math.PI * r * r / (3 * Math.sqrt(3)));
  const heads = [...straight, ...bent, ...dashed].map(a => {
    const th = Math.atan2(a.y2 - a.y1, a.x2 - a.x1) + a.bend * Math.PI / 180;
    const d = apexDist(a.tri);
    return {x: a.x2 - Math.cos(th) * d, y: a.y2 - Math.sin(th) * d, rot: th * 180 / Math.PI + 90, r: a.tri};
  });
  const links = [
    {x1: 329, y1: 3410, x2: 1072, y2: 3410, w: 8}, {x1: 1545, y1: 3664, x2: 1950, y2: 3664, w: 8},
    {x1: 2338, y1: 3489, x2: 2338, y2: 3521, w: 5}, {x1: 2156, y1: 3450, x2: 2191, y2: 3450, w: 5}
  ];
  const outline = [
    ...[[2340, 3409], [2347, 3362], [2378, 3328], [2441, 3316], [2818, 3316], [2878, 3328], [2907, 3375], [2916, 3440], [2916, 3506]].map(([x, y]) => ({x, y, z: "top"})),
    ...[[2340, 3601], [2347, 3645], [2385, 3682], [2447, 3692]].map(([x, y]) => ({x, y, z: "bl"})),
    ...[[2800, 3692], [2868, 3672], [2906, 3630], [2916, 3583]].map(([x, y]) => ({x, y, z: "br"}))
  ];
  const texts = [
    {t: "Liver", x: 78, y: 3522, c: red, s: 45}, {t: "Liver", x: 3187, y: 3414, c: red, s: 45}, {t: "Liver", x: 3672, y: 3414, c: red, s: 45},
    {t: "LPL", x: 2182, y: 3339, c: "#111", s: 46}, {t: "PL", x: 3050, y: 3437, c: "#111", s: 46},
    {t: "Peripheral cell", x: 2618, y: 3350, c: "#111", s: 48}
  ];
  const arrowMark = (data, a, extra = {}) => Plot.arrow(data, {x1: "x1", y1: "y1", x2: "x2", y2: "y2", bend: a.bend, headLength: 0, insetEnd: apexDist(a.tri) * 0.8, strokeWidth: a.w, stroke: "#111", ...extra});
  place(Plot.plot({
    width: 3797, height: 557, margin: 0,
    x: {domain: [0, 3797], range: [0, 3797], axis: null}, y: {domain: [3240, 3797], range: [0, 557], axis: null}, r: {type: "identity"},
    style: baseStyle(48),
    marks: [
      Plot.line(outline, {x: "x", y: "y", z: "z", curve: "catmull-rom", strokeWidth: 6, stroke: "#111"}),
      Plot.link(links, {x1: "x1", y1: "y1", x2: "x2", y2: "y2", strokeWidth: d => d.w, stroke: "#111"}),
      arrowMark(straight, straight[0]),
      ...bent.map(a => arrowMark([a], a)),
      arrowMark(dashed, dashed[0], {strokeDasharray: "10,7"}),
      Plot.dot(heads, {x: "x", y: "y", r: "r", symbol: "triangle", rotate: "rot", fill: "#111"}),
      Plot.rect(boxes, {x1: "x1", x2: "x2", y1: "y1", y2: "y2", fill: "white", stroke: "#111", strokeWidth: 6}),
      Plot.rect(pill, {x1: "x1", x2: "x2", y1: "y1", y2: "y2", fill: "white", stroke: "#111", strokeWidth: 6, rx: 34}),
      Plot.text(boxes, {x: d => (d.x1 + d.x2) / 2, y: d => (d.y1 + d.y2) / 2, text: "name", fontSize: 48, lineAnchor: "middle", fill: "#111"}),
      Plot.text(pill, {x: d => (d.x1 + d.x2) / 2, y: d => (d.y1 + d.y2) / 2, text: "name", fontSize: 46, lineAnchor: "middle", fill: "#111"}),
      Plot.dot(apoB, {x: "x", y: "y", r: nodeR, fill: d => d.alt ? brown : "white", stroke: "#111", strokeWidth: 6}),
      Plot.dot(apoA, {x: "x", y: "y", r: nodeR, fill: d => d.alt ? green : "white", stroke: "#111", strokeWidth: 6}),
      Plot.text(apoB, {x: "x", y: "y", text: () => "ApoB", fontSize: 37, lineAnchor: "middle", fill: d => d.alt ? "white" : "#111"}),
      Plot.text(apoA, {x: "x", y: "y", text: () => "ApoA1", fontSize: 35, lineAnchor: "middle", fill: d => d.alt ? "white" : "#111"}),
      Plot.dot(mols, {x: "x", y: "y", r: molR, fill: grey, stroke: "#111", strokeWidth: 5}),
      Plot.text(mols, {x: "lx", y: "ly", text: "name", textAnchor: d => d.a, fontSize: 46, lineAnchor: "middle", fill: "#111"}),
      Plot.text(bLabels, {x: "x", y: "y", text: "t", fontSize: 48, lineAnchor: "middle", fill: "#111"}),
      Plot.text(aLabels, {x: "x", y: "y", text: "t", fontSize: 47, lineAnchor: "middle", fill: "#111"}),
      Plot.text(texts, {x: "x", y: "y", text: "t", fill: "c", fontSize: d => d.s, lineAnchor: "middle"})
    ]
  }), 0, 3240);
}
</script></body></html>
